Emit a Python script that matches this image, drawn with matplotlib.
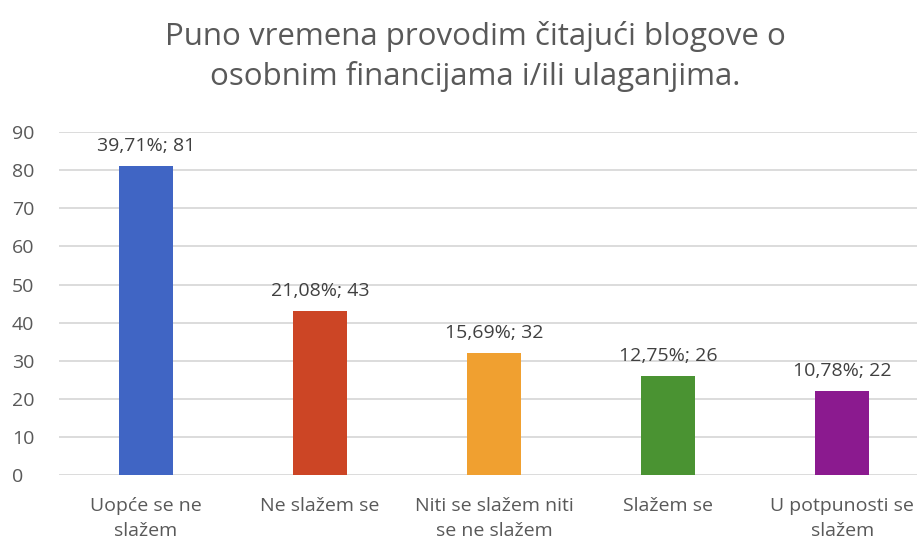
import numpy as np
import matplotlib.pyplot as plt

categories = ["Uopće se ne\nslažem", "Ne slažem se", "Niti se slažem niti\nse ne slažem",
              "Slažem se", "U potpunosti se\nslažem"]
counts = [81, 43, 32, 26, 22]
percents = ["39,71%", "21,08%", "15,69%", "12,75%", "10,78%"]
colors = ["#4065C4", "#CC4525", "#F0A030", "#4A9332", "#8B1A8F"]

plt.rcParams['font.family'] = ['Open Sans', 'DejaVu Sans']
txt = "#595959"

fig = plt.figure(figsize=(9.17, 5.46), dpi=100)
ax = fig.add_axes([59/917, 0.130, 1 - 59/917, 0.628])

x = np.arange(len(counts))
ax.bar(x, counts, width=0.31, color=colors, zorder=3)
for xi, c, p in zip(x, counts, percents):
    ax.text(xi, c + 3, f"{p}; {c}", ha='center', va='bottom', fontsize=14, color="#404040")

ax.set_ylim(0, 90)
ax.set_xlim(-0.5, 4.43)
ax.set_yticks(range(0, 91, 10))
ax.set_xticks(x)
ax.set_xticklabels(categories, fontsize=14, color=txt, linespacing=1.5)
ax.tick_params(axis='y', labelsize=14, labelcolor=txt, length=0, pad=34)
ax.tick_params(axis='x', length=0, pad=16)
ax.grid(axis='y', color='#D9D9D9', linewidth=1.3, zorder=0)
for s in ax.spines.values():
    s.set_visible(False)
for lbl in ax.get_yticklabels():
    lbl.set_horizontalalignment('left')

fig.text(0.518, 0.897, "Puno vremena provodim čitajući blogove o\nosobnim financijama i/ili ulaganjima.",
         ha='center', va='center', fontsize=22.5, color=txt, linespacing=1.38)

fig.savefig("out.png", dpi=100)
